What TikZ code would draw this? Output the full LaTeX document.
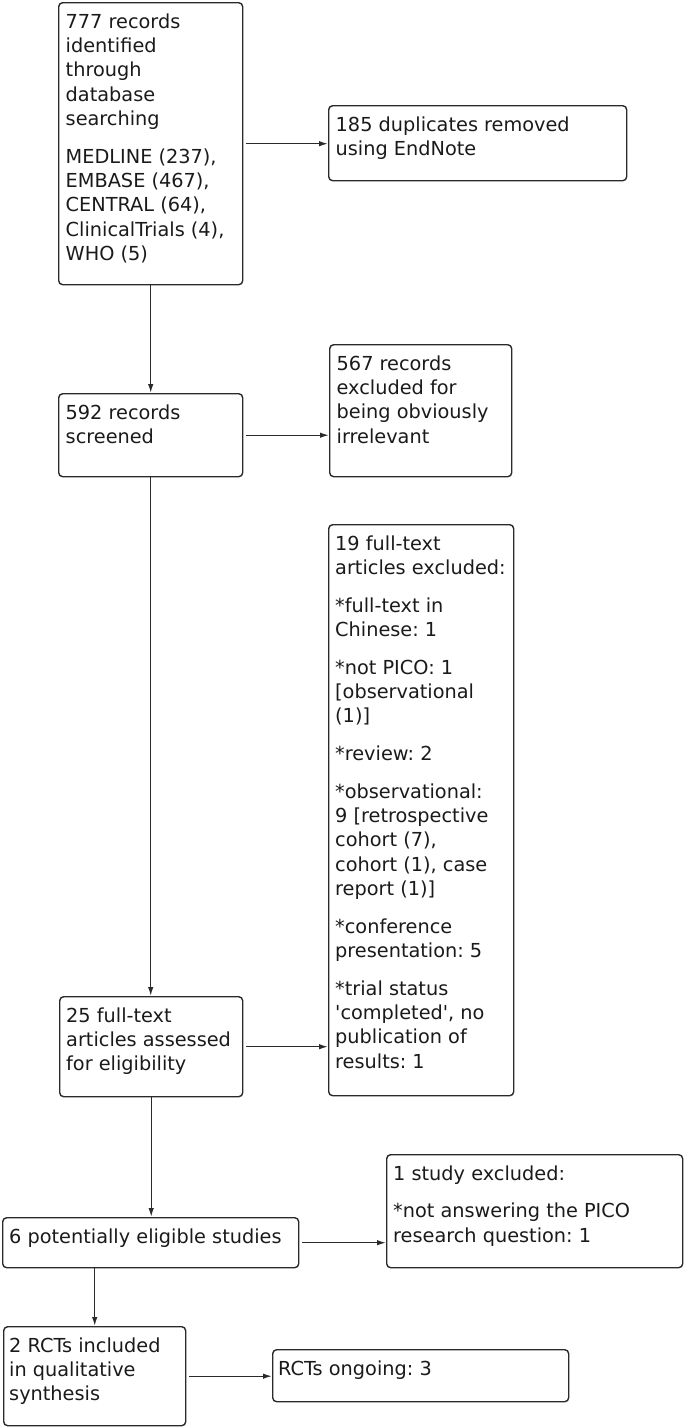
\documentclass[tikz,border=0pt]{standalone}
\usepackage{fontspec}
\setmainfont{DejaVu Sans}[Ligatures=TeXOff]
\usetikzlibrary{arrows.meta}
\definecolor{linec}{HTML}{2A2A2A}
\definecolor{txtc}{HTML}{1A1A1A}
\frenchspacing
\begin{document}
\begin{tikzpicture}[x=1pt,y=-1pt,
  box/.style={draw=linec, line width=1.4pt, rounded corners=4pt, inner sep=0pt, anchor=north west},
  txt/.style={anchor=north west, inner sep=0pt, align=left, text=txtc,
              font=\frenchspacing\fontsize{19.3}{24.3}\selectfont},
  conn/.style={draw=linec, line width=1.4pt, -{Latex[length=9pt,width=5.5pt]}},
  hconn/.style={conn, shorten <=3pt}]
\useasboundingbox (0,0) rectangle (685,1428);
\newcommand\fl{\rule{0pt}{26pt}}
\newcommand\pg{\\[13.4pt]}
% boxes
\node[box, minimum width=184pt, minimum height=282pt] (A) at (58,2) {};
\node[box, minimum width=298pt, minimum height=75pt]  (B) at (328,105) {};
\node[box, minimum width=184pt, minimum height=83pt]  (C) at (58,393) {};
\node[box, minimum width=182pt, minimum height=132pt] (D) at (329,344) {};
\node[box, minimum width=185pt, minimum height=571pt] (E) at (328,524) {};
\node[box, minimum width=183pt, minimum height=100pt] (F) at (59,996) {};
\node[box, minimum width=296pt, minimum height=50pt]  (G) at (2,1217) {};
\node[box, minimum width=296pt, minimum height=113pt] (H) at (386,1154) {};
\node[box, minimum width=182pt, minimum height=99pt]  (I) at (3,1326) {};
\node[box, minimum width=296pt, minimum height=52pt]  (J) at (272,1349) {};
% texts
\node[txt] (tA) at ([xshift=7.5pt]A.north west) {\fl 777 records\\identified\\through\\database\\searching\pg MEDLINE (237),\\EMBASE (467),\\CENTRAL (64),\\ClinicalTrials (4),\\WHO (5)};
\node[txt] (tB) at ([xshift=7.5pt]B.north west) {\fl 185 duplicates removed\\using EndNote};
\node[txt] (tC) at ([xshift=7.5pt]C.north west) {\fl 592 records\\screened};
\node[txt] (tD) at ([xshift=7.5pt]D.north west) {\fl 567 records\\excluded for\\being obviously\\irrelevant};
\node[txt] (tE) at ([xshift=7pt]E.north west) {\fl 19 full-text\\articles excluded:\pg *full-text in\\Chinese: 1\pg *not PICO: 1\\{[}observational\\(1)]\pg *review: 2\pg *observational:\\9 [retrospective\\cohort (7),\\cohort (1), case\\report (1)]\pg *conference\\presentation: 5\pg *trial status\\'completed', no\\publication of\\results: 1};
\node[txt] (tF) at ([xshift=7pt]F.north west) {\fl 25 full-text\\articles assessed\\for eligibility};
\node[txt] (tG) at ([xshift=7pt]G.north west) {\fl 6 potentially eligible studies};
\node[txt] (tH) at ([xshift=7pt]H.north west) {\fl 1 study excluded:\pg *not answering the PICO\\research question: 1};
\node[txt] (tI) at ([xshift=6pt]I.north west) {\fl 2 RCTs included\\in qualitative\\synthesis};
\node[txt] (tJ) at ([xshift=6pt]J.north west) {\fl RCTs ongoing: 3};
% connectors
\draw[hconn] (A.east) -- (A.east -| B.west);
\draw[conn] (A.south) -- (C.north);
\draw[hconn] (C.east) -- (C.east -| D.west);
\draw[conn] (C.south) -- (F.north -| C.south);
\draw[hconn] (F.east) -- (F.east -| E.west);
\draw[conn] (F.south) -- (G.north -| F.south);
\draw[hconn] (G.east) -- (G.east -| H.west);
\draw[conn] (I.north |- G.south) -- (I.north);
\draw[hconn] (I.east) -- (I.east -| J.west);
\end{tikzpicture}
\end{document}
